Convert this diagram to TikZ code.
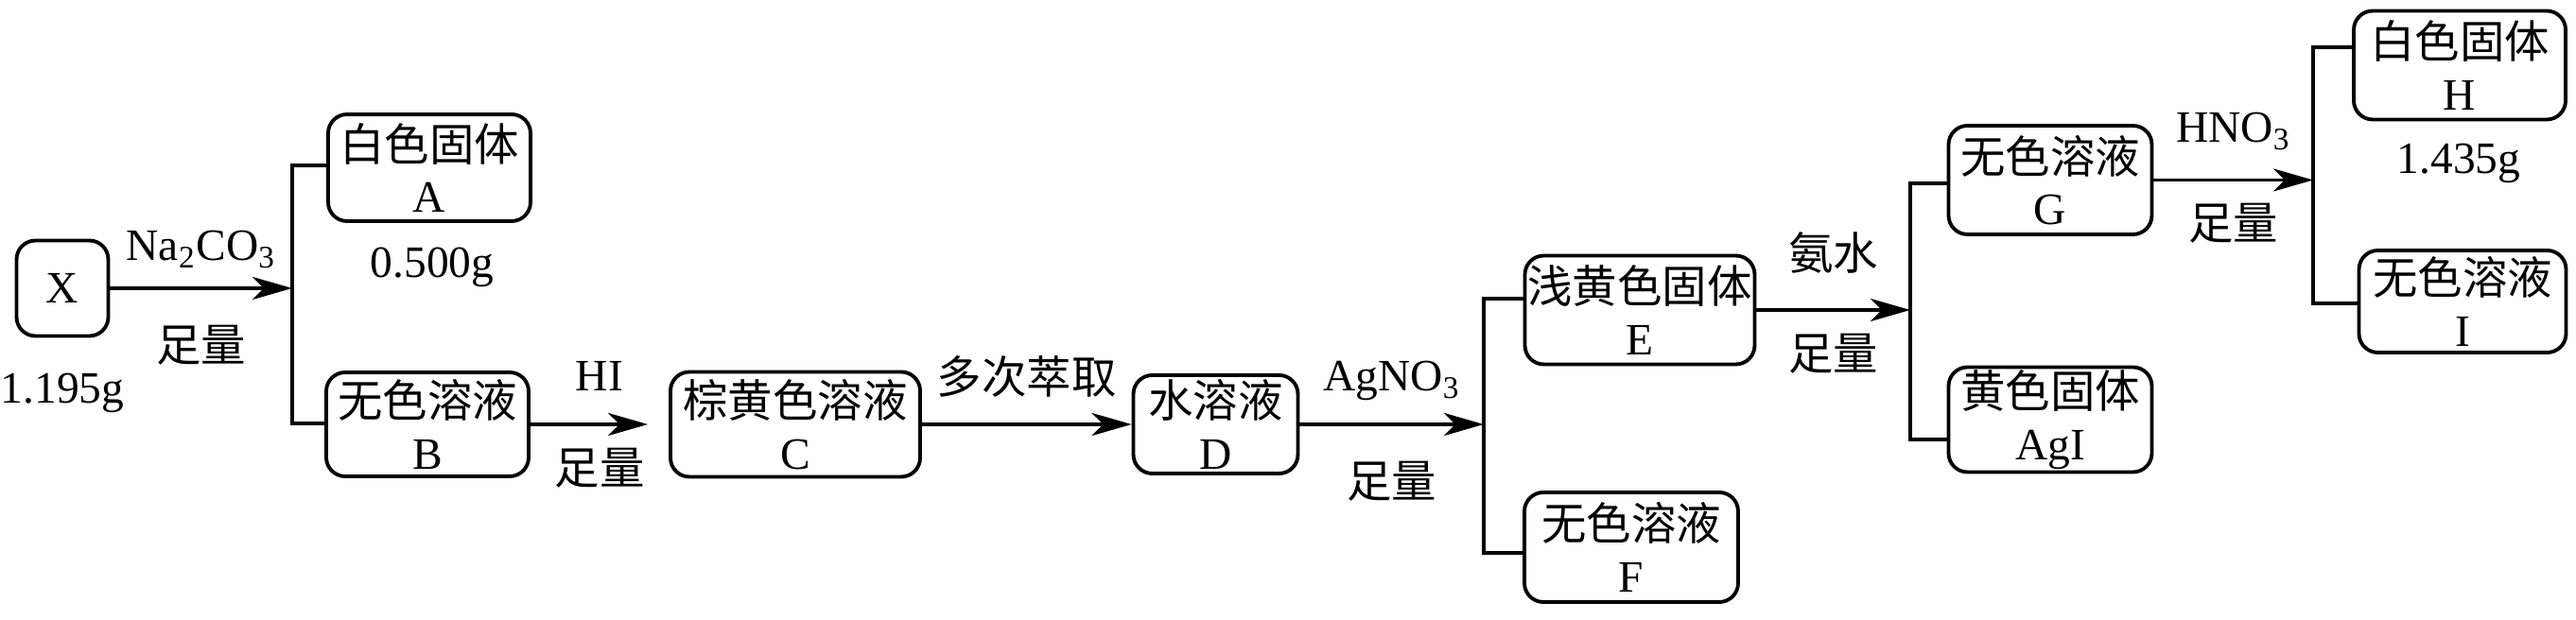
\documentclass[tikz,border=0pt]{standalone}
\usepackage{fontspec}
\setmainfont{Liberation Serif}
\newfontfamily\cjk{Noto Sans CJK SC}
\usetikzlibrary{arrows.meta}
\tikzset{
  box/.style={draw, line width=1.1pt, rounded corners=0.2cm, align=center, inner sep=0pt},
  react/.style={line width=1.1pt, -{Stealth[length=0.42cm,width=0.24cm,inset=0.12cm]}},
  split/.style={line width=1.1pt},
}
\begin{document}
\begin{tikzpicture}
\fontsize{13.5}{15.5}\selectfont
\useasboundingbox (0,0) rectangle (27.24,6.56);
% sample X and first split
\node[box, minimum width=0.97cm, minimum height=1.01cm] (X) at (0.66,3.51) {X};
\node (mX) at (0.66,2.40) {1.195g};
\node[box, minimum width=2.14cm, minimum height=1.13cm] (A) at (4.54,4.785) {{\cjk 白色固体}\\A};
\node (mA) at (4.57,3.73) {0.500g};
\node[box, minimum width=2.14cm, minimum height=1.10cm] (B) at (4.52,2.07) {{\cjk 无色溶液}\\B};
\coordinate (s1t) at (3.09,4.81);
\coordinate (s1b) at (3.09,2.08);
\draw[react] (X.east) -- (X.east -| s1t)
  node[midway, above=1pt] {Na\textsubscript{2}CO\textsubscript{3}}
  node[midway, below=6pt] {\cjk 足量};
\draw[split] (A.west |- s1t) -- (s1t) -- (s1b) -- (B.west |- s1b);
% solution B to D
\node[box, minimum width=2.64cm, minimum height=1.11cm] (C) at (8.41,2.07) {{\cjk 棕黄色溶液}\\C};
\node[box, minimum width=1.74cm, minimum height=1.04cm] (D) at (12.855,2.07) {{\cjk 水溶液}\\D};
\draw[react, shorten >=0.22cm] (B) -- (C)
  node[midway, above=5pt] {HI}
  node[midway, below=2pt] {\cjk 足量};
\draw[react] (C) -- (D)
  node[midway, above=3pt] {\cjk 多次萃取};
% second split
\node[box, minimum width=2.43cm, minimum height=1.15cm] (E) at (17.34,3.28) {{\cjk 浅黄色固体}\\E};
\node[box, minimum width=2.26cm, minimum height=1.16cm] (F) at (17.25,0.77) {{\cjk 无色溶液}\\F};
\coordinate (s2t) at (15.69,3.40);
\coordinate (s2b) at (15.69,0.71);
\draw[react] (D.east) -- (D.east -| s2t)
  node[midway, above=2pt] {AgNO\textsubscript{3}}
  node[midway, below=6pt] {\cjk 足量};
\draw[split] (E.west |- s2t) -- (s2t) -- (s2b) -- (F.west |- s2b);
% third split
\node[box, minimum width=2.15cm, minimum height=1.15cm] (G) at (21.68,4.655) {{\cjk 无色溶液}\\G};
\node[box, minimum width=2.15cm, minimum height=1.11cm] (AgI) at (21.68,2.12) {{\cjk 黄色固体}\\AgI};
\coordinate (s3t) at (20.20,4.62);
\coordinate (s3b) at (20.20,1.91);
\draw[react] (E.east) -- (E.east -| s3t)
  node[midway, above=6pt] {\cjk 氨水}
  node[midway, below=2pt] {\cjk 足量};
\draw[split] (G.west |- s3t) -- (s3t) -- (s3b) -- (AgI.west |- s3b);
% fourth split
\node[box, minimum width=2.24cm, minimum height=1.15cm] (H) at (26.01,5.87) {{\cjk 白色固体}\\H};
\node (mH) at (26.00,4.83) {1.435g};
\node[box, minimum width=2.19cm, minimum height=1.08cm] (I) at (26.04,3.37) {{\cjk 无色溶液}\\I};
\coordinate (s4t) at (24.46,6.06);
\coordinate (s4b) at (24.46,3.35);
\draw[react] (G.east) -- (G.east -| s4t)
  node[midway, above=4pt] {HNO\textsubscript{3}}
  node[midway, below=2pt] {\cjk 足量};
\draw[split] (H.west |- s4t) -- (s4t) -- (s4b) -- (I.west |- s4b);
\end{tikzpicture}
\end{document}
